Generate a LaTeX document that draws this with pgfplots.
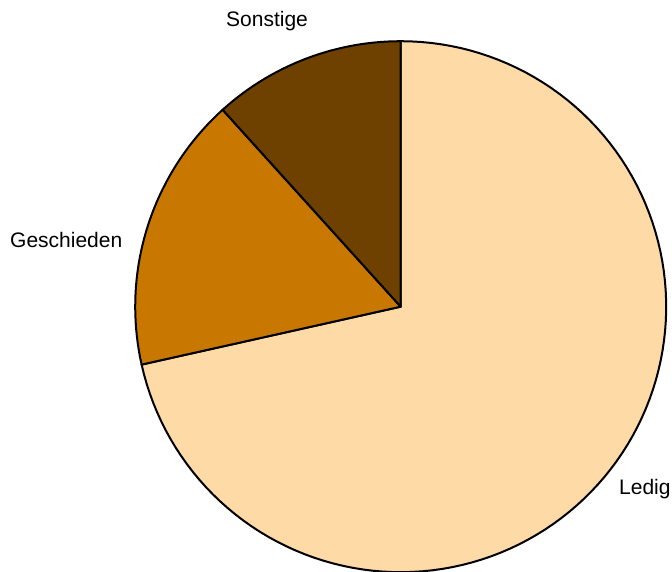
\documentclass[border=0pt]{standalone}
\usepackage{fontspec}
\setmainfont{Liberation Sans}
\usepackage{pgfplots}
\pgfplotsset{compat=1.18}
\definecolor{cLedig}{HTML}{FDDAA6}
\definecolor{cGesch}{HTML}{C87800}
\definecolor{cSonst}{HTML}{6E4100}
% shares in percent
\def\vLedig{71.5}
\def\vGesch{16.8}
\def\vSonst{11.7}
\def\cx{400.7}
\def\cy{265.3}
\def\rr{265.5}
\pgfmathsetmacro{\aA}{90}
\pgfmathsetmacro{\aB}{90-3.6*\vLedig}
\pgfmathsetmacro{\aC}{\aB-3.6*\vGesch}
\pgfmathsetmacro{\aD}{\aC-3.6*\vSonst}
\begin{document}
\begin{tikzpicture}
\begin{axis}[
  width=672pt, height=572pt, scale only axis,
  xmin=0, xmax=672, ymin=0, ymax=572,
  hide axis, clip=false,
]
\addplot[fill=cLedig, draw=black, line width=2pt, line join=round, domain=\aB:\aA, samples=120, variable=\t]
  ({\cx+\rr*cos(\t)},{\cy+\rr*sin(\t)}) -- (axis cs:\cx,\cy) -- cycle;
\addplot[fill=cGesch, draw=black, line width=2pt, line join=round, domain=\aC:\aB, samples=40, variable=\t]
  ({\cx+\rr*cos(\t)},{\cy+\rr*sin(\t)}) -- (axis cs:\cx,\cy) -- cycle;
\addplot[fill=cSonst, draw=black, line width=2pt, line join=round, domain=\aD:\aC, samples=30, variable=\t]
  ({\cx+\rr*cos(\t)},{\cy+\rr*sin(\t)}) -- (axis cs:\cx,\cy) -- cycle;
\node[anchor=base west, inner sep=0pt, font=\fontsize{21}{25}\selectfont] at (axis cs:619,77) {Ledig};
\node[anchor=base west, inner sep=0pt, font=\fontsize{21}{25}\selectfont] at (axis cs:10,324) {Geschieden};
\node[anchor=base west, inner sep=0pt, font=\fontsize{21}{25}\selectfont] at (axis cs:226,545) {Sonstige};
\end{axis}
\pgfresetboundingbox
\path[use as bounding box] (current axis.south west) rectangle (current axis.north east);
\end{tikzpicture}
\end{document}
